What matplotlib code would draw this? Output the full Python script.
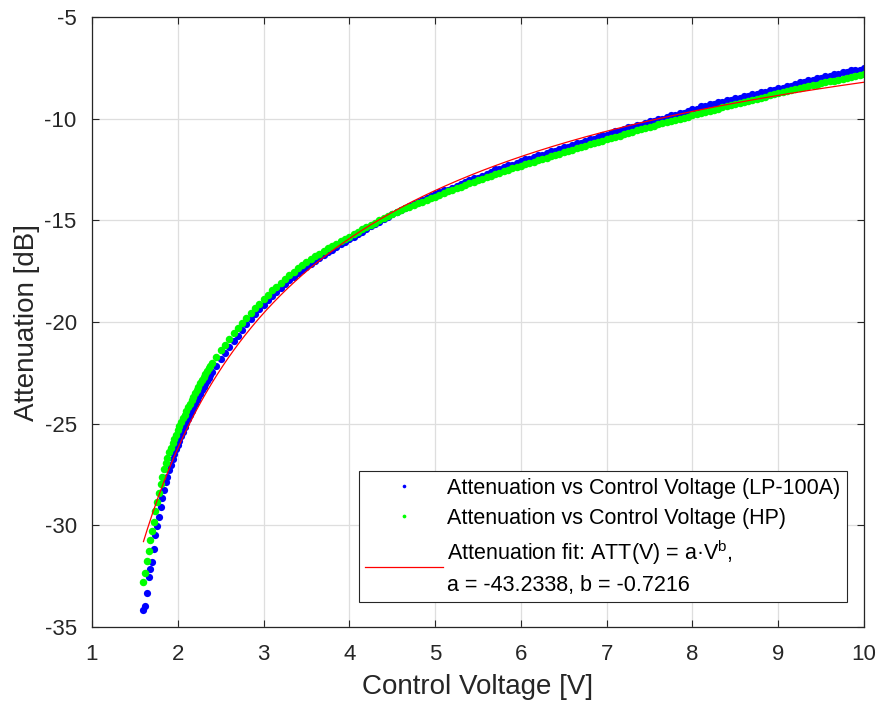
import numpy as np
import matplotlib
matplotlib.use("Agg")
from matplotlib import pyplot as plt

plt.rcParams["font.family"] = ["Liberation Sans", "DejaVu Sans"]
plt.rcParams["mathtext.fontset"] = "custom"
plt.rcParams["mathtext.rm"] = "Liberation Sans"
plt.rcParams["axes.unicode_minus"] = False

# control voltage sweep: 0.02 V steps up to 2.4 V, then 0.05 V steps
volts = np.concatenate([np.arange(160, 241, 2), np.arange(245, 1001, 5)]) / 100.0

# LP-100A readings [dB]
att_lp100a = [
    -34.17, -33.95, -33.32, -32.55, -32.14, -31.78, -31.14, -30.50, -30.02, -29.58,
    -29.09, -28.67, -28.25, -27.89, -27.62, -27.26, -27.01, -26.76, -26.51, -26.27,
    -26.07, -25.85, -25.63, -25.40, -25.18, -24.96, -24.77, -24.59, -24.40, -24.21,
    -24.02, -23.86, -23.69, -23.53, -23.36, -23.20, -23.06, -22.90, -22.76, -22.60,
    -22.46,
    -22.14, -21.82, -21.53, -21.23, -20.95, -20.67, -20.40, -20.12, -19.87, -19.61,
    -19.38, -19.14, -18.93, -18.71, -18.51, -18.31, -18.13, -17.95, -17.78, -17.61,
    -17.45, -17.29, -17.14, -16.99, -16.85, -16.71, -16.58, -16.44, -16.31, -16.18,
    -16.06, -15.93, -15.80, -15.67, -15.55, -15.42, -15.30, -15.18, -15.06, -14.94,
    -14.83, -14.7, -14.6, -14.5, -14.4, -14.3, -14.2, -14.1, -14.0, -13.9,
    -13.8, -13.7, -13.6, -13.5, -13.5, -13.4, -13.3, -13.2, -13.1, -13.0,
    -12.9, -12.9, -12.8, -12.7, -12.6, -12.5, -12.5, -12.4, -12.3, -12.3,
    -12.2, -12.1, -12.0, -12.0, -11.9, -11.8, -11.8, -11.7, -11.6, -11.6,
    -11.5, -11.4, -11.4, -11.3, -11.2, -11.2, -11.1, -11.0, -11.0, -10.9,
    -10.8, -10.8, -10.7, -10.6, -10.6, -10.5, -10.4, -10.4, -10.3, -10.3,
    -10.2, -10.1, -10.1, -10.0, -10.0, -9.9, -9.8, -9.8, -9.7, -9.7,
    -9.6, -9.5, -9.5, -9.4, -9.4, -9.3, -9.3, -9.2, -9.2, -9.1,
    -9.1, -9.0, -9.0, -8.9, -8.9, -8.8, -8.8, -8.7, -8.7, -8.6,
    -8.6, -8.5, -8.5, -8.4, -8.4, -8.3, -8.2, -8.2, -8.1, -8.1,
    -8.0, -8.0, -7.9, -7.9, -7.8, -7.8, -7.7, -7.7, -7.6, -7.6,
    -7.6, -7.5,
]

# HP readings [dB]
att_hp = [
    -32.80, -32.33, -31.77, -31.25, -30.74, -30.28, -29.84, -29.30, -28.87, -28.43,
    -27.99, -27.62, -27.25, -26.94, -26.67, -26.41, -26.19, -25.97, -25.75, -25.54,
    -25.32, -25.13, -24.94, -24.74, -24.55, -24.36, -24.19, -24.02, -23.85, -23.67,
    -23.50, -23.34, -23.18, -23.02, -22.86, -22.70, -22.56, -22.42, -22.28, -22.14,
    -22.00,
    -21.70, -21.39, -21.11, -20.83, -20.56, -20.29, -20.04, -19.79, -19.56, -19.32,
    -19.10, -18.88, -18.67, -18.45, -18.26, -18.06, -17.88, -17.70, -17.53, -17.36,
    -17.21, -17.06, -16.92, -16.77, -16.64, -16.50, -16.38, -16.25, -16.14, -16.02,
    -15.91, -15.80, -15.68, -15.56, -15.45, -15.33, -15.22, -15.11, -15.00, -14.89,
    -14.79, -14.69, -14.59, -14.49, -14.41, -14.32, -14.24, -14.16, -14.08, -13.99,
    -13.91, -13.83, -13.75, -13.66, -13.58, -13.50, -13.42, -13.34, -13.26, -13.18,
    -13.11, -13.04, -12.96, -12.88, -12.81, -12.73, -12.66, -12.59, -12.52, -12.45,
    -12.39, -12.32, -12.25, -12.17, -12.11, -12.04, -11.98, -11.91, -11.85, -11.78,
    -11.72, -11.65, -11.59, -11.52, -11.46, -11.39, -11.33, -11.26, -11.20, -11.14,
    -11.08, -11.02, -10.96, -10.89, -10.83, -10.76, -10.70, -10.64, -10.58, -10.52,
    -10.46, -10.40, -10.34, -10.28, -10.23, -10.17, -10.12, -10.06, -10.01, -9.95,
    -9.90, -9.84, -9.79, -9.73, -9.67, -9.61, -9.56, -9.50, -9.45, -9.39,
    -9.34, -9.28, -9.23, -9.17, -9.12, -9.07, -9.02, -8.96, -8.91, -8.86,
    -8.81, -8.76, -8.71, -8.66, -8.61, -8.56, -8.51, -8.46, -8.41, -8.36,
    -8.32, -8.27, -8.22, -8.17, -8.13, -8.08, -8.04, -8.00, -7.95, -7.91,
    -7.86, -7.82,
]

# power-law fit ATT(V) = a * V^b
fit_a = -43.2338
fit_b = -0.7216

fig = plt.figure(figsize=(8.79, 7.02), dpi=100)
ax = fig.add_axes([92 / 879, 1 - 627 / 702, 772 / 879, 610 / 702])

ax.plot(volts, att_lp100a, "o", color="#0000ff", ms=5.2, mew=0,
        label="Attenuation vs Control Voltage (LP-100A)")
ax.plot(volts, att_hp, "o", color="#00ff00", ms=5.4, mew=0,
        label="Attenuation vs Control Voltage (HP)")
vfit = np.linspace(volts[0], volts[-1], 400)
ax.plot(vfit, fit_a * vfit ** fit_b, "-", color="#ff0000", lw=0.9,
        label="Attenuation fit: ATT(V) = a\u00b7V$^{\\mathrm{b}}$,\n"
              "a = %.4f, b = %.4f" % (fit_a, fit_b))

ax.set_xlim(1, 10)
ax.set_ylim(-35, -5)
ax.set_xticks(range(1, 11))
ax.set_yticks(range(-35, -4, 5))
ax.grid(True, color="#dedede", lw=0.9)
ax.set_axisbelow(True)
ax.tick_params(direction="in", length=5, width=0.8, top=True, right=True,
               labelsize=16, colors="#262626")
ax.tick_params(axis="x", pad=12)
ax.tick_params(axis="y", pad=11)
for s in ax.spines.values():
    s.set_color("#262626")
    s.set_linewidth(0.9)

ax.set_xlabel("Control Voltage [V]", fontsize=20, color="#262626", labelpad=7)
ax.set_ylabel("Attenuation [dB]", fontsize=20, color="#262626", labelpad=3)

leg = ax.legend(loc="lower right", bbox_to_anchor=(847 / 879, 1 - 602 / 702),
                bbox_transform=fig.transFigure, borderaxespad=0,
                fontsize=15.5, fancybox=False, framealpha=1, handlelength=3.6,
                handletextpad=0.2, markerscale=0.5, labelspacing=0.42,
                borderpad=0.3)
leg.get_texts()[2].set_linespacing(1.5)
leg.get_frame().set_edgecolor("#262626")
leg.get_frame().set_linewidth(0.8)

fig.savefig("out.png", dpi=100)
